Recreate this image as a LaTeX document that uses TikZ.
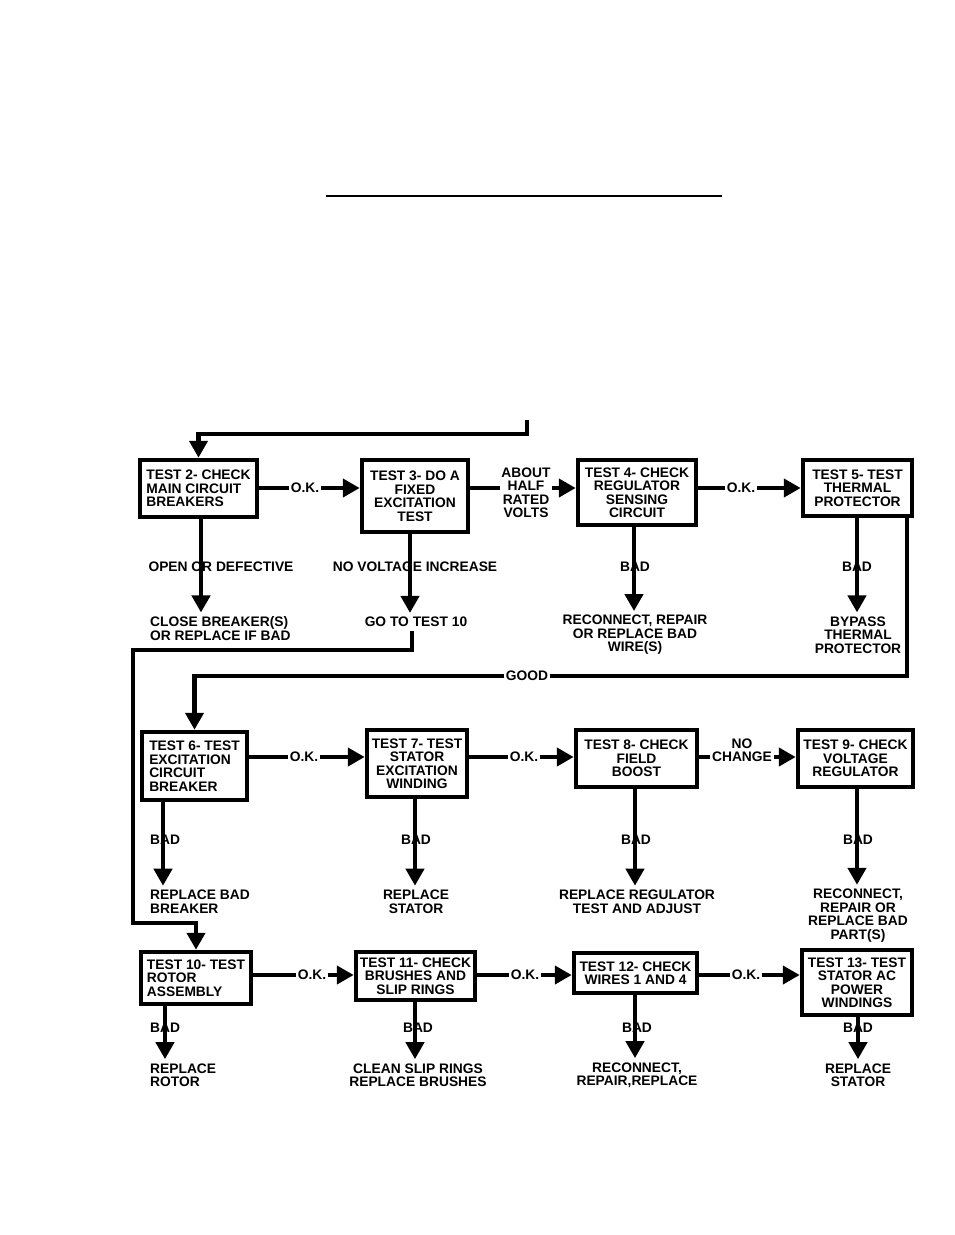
\documentclass[tikz,border=0pt]{standalone}
\usepackage{fontspec}
\setmainfont{Liberation Sans}
\usetikzlibrary{arrows.meta}

\tikzset{
  test/.style={draw, line width=4.5pt, inner sep=2pt, align=center},
  link/.style={line width=4.5pt},
  lbl/.style={inner sep=1.5pt, align=center},
  fix/.style={inner sep=4pt, align=center},
}

\begin{document}
\begin{tikzpicture}[x=1pt,y=-1pt,>={Triangle[length=17pt,width=18pt]},
  font=\fontsize{13.8}{13.5}\selectfont\bfseries]
  \useasboundingbox (0,0) rectangle (954,1235);
  \draw[line width=2.5pt] (326,196) -- (722,196);
  % rows of the chart
  \coordinate (ra) at (0,488);
  \coordinate (rb) at (0,757);
  \coordinate (rc) at (0,975);

  % tests
  \node[test,align=left,minimum width=117pt,minimum height=57pt] (t2) at (198.5,488.5) {TEST 2- CHECK\\MAIN CIRCUIT\\BREAKERS};
  \node[test,minimum width=106pt,minimum height=72pt] (t3) at (415,496) {TEST 3- DO A\\FIXED\\EXCITATION\\TEST};
  \node[test,minimum width=118pt,minimum height=65pt] (t4) at (637,492.5) {TEST 4- CHECK\\REGULATOR\\SENSING\\CIRCUIT};
  \node[test,minimum width=109pt,minimum height=56pt] (t5) at (857.5,488) {TEST 5- TEST\\THERMAL\\PROTECTOR};
  \node[test,align=left,minimum width=105pt,minimum height=68pt] (t6) at (194.5,766) {TEST 6- TEST\\EXCITATION\\CIRCUIT\\BREAKER};
  \node[test,minimum width=100pt,minimum height=67pt] (t7) at (417,763.5) {TEST 7- TEST\\STATOR\\EXCITATION\\WINDING};
  \node[test,minimum width=121pt,minimum height=57pt] (t8) at (636.5,758.5) {TEST 8- CHECK\\FIELD\\BOOST};
  \node[test,minimum width=115pt,minimum height=57pt] (t9) at (855.5,758.5) {TEST 9- CHECK\\VOLTAGE\\REGULATOR};
  \node[test,align=left,minimum width=110pt,minimum height=52pt] (t10) at (196,978) {TEST 10- TEST\\ROTOR\\ASSEMBLY};
  \node[test,minimum width=119pt,minimum height=48pt] (t11) at (415.5,976) {TEST 11- CHECK\\BRUSHES AND\\SLIP RINGS};
  \node[test,minimum width=123pt,minimum height=40pt] (t12) at (635.5,973) {TEST 12- CHECK\\WIRES 1 AND 4};
  \node[test,minimum width=110pt,minimum height=65pt] (t13) at (857,982.5) {TEST 13- TEST\\STATOR AC\\POWER\\WINDINGS};

  % what to do
  \node[fix,align=left,anchor=west] (fix2) at (146,628.5) {CLOSE BREAKER(S)\\OR REPLACE IF BAD};
  \node[fix] (fix3) at (416,622) {GO TO TEST 10};
  \node[fix] (fix4) at (635,635) {RECONNECT, REPAIR\\OR REPLACE BAD\\WIRE(S)};
  \node[fix] (fix5) at (858,635) {BYPASS\\THERMAL\\PROTECTOR};
  \node[fix,align=left,anchor=west] (fix6) at (146,901.5) {REPLACE BAD\\BREAKER};
  \node[fix] (fix7) at (416,901.5) {REPLACE\\STATOR};
  \node[fix] (fix8) at (637,901.5) {REPLACE REGULATOR\\TEST AND ADJUST};
  \node[fix] (fix9) at (858,915.5) {RECONNECT,\\REPAIR OR\\REPLACE BAD\\PART(S)};
  \node[fix,align=left,anchor=west] (fix10) at (146,1075) {REPLACE\\ROTOR};
  \node[fix] (fix11) at (418,1075) {CLEAN SLIP RINGS\\REPLACE BRUSHES};
  \node[fix] (fix12) at (637,1075) {RECONNECT,\\REPAIR,REPLACE};
  \node[fix] (fix13) at (858,1075) {REPLACE\\STATOR};

  % down arrows
  \foreach \n/\x in {2/201,3/410,4/634,5/857,6/163,7/415,8/635,9/857,10/165,11/415,12/635,13/858} {
    \coordinate (d\n) at (\x,0);
    \draw[link,->] (d\n |- t\n.south) -- (d\n |- fix\n.north);
  }
  \node[lbl] (why2) at (221,567) {OPEN OR DEFECTIVE};
  \node[lbl] (why3) at (415,567) {NO VOLTAGE INCREASE};
  \foreach \n/\x/\y in {4/635/567,5/857/567,7/416/840,8/636/840,9/858/840,11/418/1028,12/637/1028,13/858/1028}
    \node[lbl] (bad\n) at (\x,\y) {BAD};
  \node[lbl,anchor=west] (bad6) at (148.5,840) {BAD};
  \node[lbl,anchor=west] (bad10) at (148.5,1028) {BAD};

  % across
  \node[lbl] (ok1) at (305,488) {O.K.};
  \node[lbl] (about) at (526,492.5) {ABOUT\\HALF\\RATED\\VOLTS};
  \node[lbl] (ok2) at (741,488) {O.K.};
  \node[lbl] (ok3) at (304,757) {O.K.};
  \node[lbl] (ok4) at (524,757) {O.K.};
  \node[lbl] (nochg) at (742,750) {NO\\CHANGE};
  \node[lbl] (ok5) at (312,975) {O.K.};
  \node[lbl] (ok6) at (525,975) {O.K.};
  \node[lbl] (ok7) at (746,975) {O.K.};
  \draw[link] (t2.east |- ra) -- (ok1.west);
  \draw[link,->] (ok1.east) -- (t3.west |- ra);
  \draw[link] (t3.east |- ra) -- (about.west |- ra);
  \draw[link,->] (about.east |- ra) -- (t4.west |- ra);
  \draw[link] (t4.east |- ra) -- (ok2.west);
  \draw[link,->] (ok2.east) -- (t5.west |- ra);
  \draw[link] (t6.east |- rb) -- (ok3.west);
  \draw[link,->] (ok3.east) -- (t7.west |- rb);
  \draw[link] (t7.east |- rb) -- (ok4.west);
  \draw[link,->] (ok4.east) -- (t8.west |- rb);
  \draw[link] (t8.east |- rb) -- (nochg.west |- rb);
  \draw[link,->] (nochg.east |- rb) -- (t9.west |- rb);
  \draw[link] (t10.east |- rc) -- (ok5.west);
  \draw[link,->] (ok5.east) -- (t11.west |- rc);
  \draw[link] (t11.east |- rc) -- (ok6.west);
  \draw[link,->] (ok6.east) -- (t12.west |- rc);
  \draw[link] (t12.east |- rc) -- (ok7.west);
  \draw[link,->] (ok7.east) -- (t13.west |- rc);

  % returns
  \coordinate (in1) at (527,420);
  \coordinate (in2) at (527,434);
  \draw[link,->] (in1) -- (in2) -| (t2.north);
  \node[lbl] (good) at (527,676) {GOOD};
  \coordinate (g5) at (907,676);
  \draw[link] (g5 |- t5.south) -- (g5) -- (good.east);
  \draw[link,->] (good.west) -| (t6.north);
  \coordinate (g3) at (412,650);
  \coordinate (g3b) at (133,923);
  \draw[link,->] (g3 |- fix3.south) -- (g3) -| (g3b) -| (t10.north);
\end{tikzpicture}
\end{document}
